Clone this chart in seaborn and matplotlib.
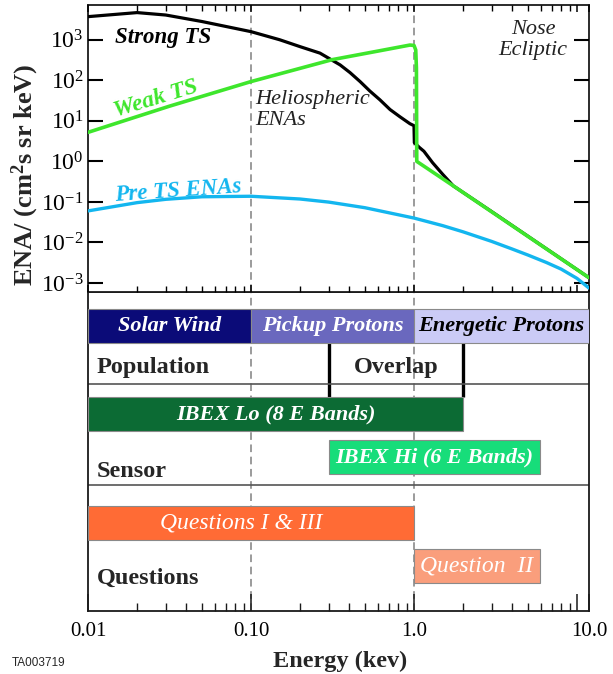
import matplotlib
matplotlib.use("Agg")
import matplotlib.pyplot as plt
import seaborn as sns
import pandas as pd
from matplotlib.ticker import FixedLocator, FixedFormatter, LogFormatterMathtext, NullLocator

sns.set_theme(style="white")
plt.rcParams["font.family"] = ["Liberation Serif", "DejaVu Serif"]
plt.rcParams["mathtext.fontset"] = "custom"
plt.rcParams["mathtext.rm"] = "Liberation Serif"
plt.rcParams["mathtext.it"] = "Liberation Serif:italic"
plt.rcParams["mathtext.bf"] = "Liberation Serif:bold"
plt.rcParams.update({
    "axes.axisbelow": False,
    "ytick.left": True, "ytick.right": True, "ytick.direction": "in",
    "ytick.major.size": 11, "ytick.major.width": 1.5, "ytick.color": "black",
    "xtick.bottom": True, "xtick.top": True, "xtick.direction": "in", "xtick.color": "black",
})

# ---------------- data ----------------
strong_E = [0.01, 0.02, 0.03, 0.05, 0.1, 0.15, 0.2, 0.265, 0.352, 0.405, 0.467, 0.537,
            0.618, 0.713, 0.82, 0.944, 1.0, 1.005, 1.08, 1.15, 1.3, 1.5, 1.74, 3.0, 11.85]
strong_flux = [3715, 4677, 4074, 2818, 1585, 1000, 676, 468, 240, 155, 93, 54,
               33, 19, 12.6, 8.5, 7.6, 2.9, 2.2, 1.78, 0.93, 0.48, 0.25, 0.0575, 0.00135]

weak_E = [0.01, 0.0316, 0.1, 0.316, 0.6, 0.944, 1.0, 1.025, 1.035, 1.04, 1.74, 11.85]
weak_flux = [5.2, 23, 93, 324, 525, 740, 725, 560, 200, 1.0, 0.25, 0.00135]

pre_E = [0.01, 0.02, 0.03, 0.05, 0.1, 0.2, 0.3, 0.5, 1.0, 1.5, 2.0, 3.0, 4.0, 5.0, 6.5,
         8.0, 10.0, 11.85]
pre_flux = [0.060, 0.096, 0.116, 0.134, 0.138, 0.118, 0.099, 0.072, 0.040, 0.026,
            0.0183, 0.0106, 0.0069, 0.0049, 0.0032, 0.0022, 0.0013, 0.00075]

pop_names = ["Solar Wind", "Pickup Protons", "Energetic Protons"]
pop_lo = [0.01, 0.1, 1.0]
pop_hi = [0.1, 1.0, 11.85]

sensor_names = ["IBEX Lo (8 E Bands)", "IBEX Hi (6 E Bands)"]
sensor_lo = [0.01, 0.3]
sensor_hi = [2.0, 5.9]

question_names = ["Questions I & III", "Question  II"]
question_lo = [0.01, 1.0]
question_hi = [1.0, 5.9]

overlap_E = [0.3, 2.0]
row_labels = ["Population", "Sensor", "Questions"]

xtick_vals = [0.01, 0.1, 1.0, 10.0, 11.85]
xtick_labels = ["0.01", "0.10", "1.0", "", "10.0"]
ytick_vals = [1e-3, 1e-2, 1e-1, 1e0, 1e1, 1e2, 1e3]

# ---------------- layout ----------------
W, H = 613, 674
XMIN, XMAX = 0.01, 11.85
fig = plt.figure(figsize=(W / 100, H / 100), dpi=100)


def fx(p):
    return p / W


def fy(p):
    return 1 - p / H


ax1 = fig.add_axes([fx(88), fy(292), (589 - 88) / W, (292 - 5) / H])
ax2 = fig.add_axes([fx(88), fy(611), (589 - 88) / W, (611 - 292) / H])
ax1.set_zorder(3)
ax1.set_axisbelow(False)

SPINE = "#1a1a1a"
DASH = "#808080"

# ---------------- top panel ----------------
ax1.set_xscale("log")
ax1.set_yscale("log")
ax1.set_xlim(XMIN, XMAX)
ax1.set_ylim(6.0e-4, 7200)

for xv in [0.1, 1.0]:
    ax1.axvline(xv, color=DASH, lw=1.1, ls=(0, (5, 3)), zorder=1)

curves = pd.DataFrame({
    "E": strong_E + weak_E + pre_E,
    "flux": strong_flux + weak_flux + pre_flux,
    "curve": ["Strong TS"] * len(strong_E) + ["Weak TS"] * len(weak_E) + ["Pre TS ENAs"] * len(pre_E),
})
styles = {"Strong TS": ("black", 2.3, 3), "Pre TS ENAs": ("#13B6EF", 2.4, 4), "Weak TS": ("#3EE62C", 2.6, 5)}
for name, (col, lw, z) in styles.items():
    sub = curves[curves["curve"] == name]
    sns.lineplot(data=sub, x="E", y="flux", ax=ax1, color=col, lw=lw, estimator=None,
                 sort=False, legend=False, zorder=z)

ax1.set_xlabel("")
ax1.set_ylabel("")
ax1.yaxis.set_ticks_position("both")
ax1.xaxis.set_ticks_position("both")
ax1.yaxis.set_major_locator(FixedLocator(ytick_vals))
ax1.yaxis.set_major_formatter(LogFormatterMathtext())
ax1.yaxis.set_minor_locator(NullLocator())
ax1.tick_params(axis="y", which="major", direction="in", left=True, right=True,
                labelleft=True, labelright=False, length=11, width=1.5, color="black",
                labelsize=17, pad=3)
minor_x = [k * 10.0 ** d for d in (-2, -1, 0) for k in range(2, 10)]
ax1.xaxis.set_major_locator(FixedLocator(xtick_vals))
ax1.xaxis.set_minor_locator(FixedLocator(minor_x))
ax1.tick_params(axis="x", which="major", direction="in", top=True, bottom=True, length=5,
                width=1.1, color="black", labelbottom=False, labeltop=False)
ax1.tick_params(axis="x", which="minor", direction="in", top=True, bottom=True, length=4,
                width=1.0, color="black")
for s in ax1.spines.values():
    s.set_color(SPINE)
    s.set_linewidth(1.3)

# curve labels
fig.text(fx(163), fy(37), "Strong TS", ha="center", va="center", fontsize=16.5,
         fontweight="bold", style="italic", color="black")
fig.text(fx(156), fy(99), "Weak TS", ha="center", va="center", fontsize=17,
         fontweight="bold", style="italic", color="#3EE62C", rotation=17)
fig.text(fx(178), fy(191), "Pre TS ENAs", ha="center", va="center", fontsize=16.5,
         fontweight="bold", style="italic", color="#13B6EF", rotation=4)
fig.text(fx(255), fy(110), "Heliospheric\nENAs", ha="left", va="center", fontsize=16,
         style="italic", color="#222222")
fig.text(fx(533), fy(40), "Nose\nEcliptic", ha="center", va="center", fontsize=16,
         style="italic", color="#222222", multialignment="center")
fig.text(fx(25), fy(175), "ENA/ (cm$^{\\mathbf{2}}$s sr keV)", rotation=90, ha="center",
         va="center", fontsize=19, fontweight="bold")

# ---------------- bottom panel ----------------
ax2.set_xscale("log")
ax2.set_xlim(XMIN, XMAX)
ax2.set_ylim(319, 0)

for xv in [0.1, 1.0]:
    ax2.axvline(xv, color=DASH, lw=1.1, ls=(0, (5, 3)), zorder=1)

EDGE = "#8a8a8a"
pop_colors = ["#0B0B78", "#6A68BE", "#CBCBF6"]
pop_text = ["white", "white", "black"]
for n, lo, hi, c, tc in zip(pop_names, pop_lo, pop_hi, pop_colors, pop_text):
    ax2.barh(34, hi - lo, left=lo, height=34, color=c, edgecolor=EDGE, lw=0.8, zorder=3)
    ax2.text((lo * hi) ** 0.5, 34, n, ha="center", va="center", fontsize=16,
             fontweight="bold", style="italic", color=tc, zorder=4)

sensor_rows = [122, 165]
sensor_colors = ["#0C6B34", "#17DD7A"]
for n, lo, hi, c, yc in zip(sensor_names, sensor_lo, sensor_hi, sensor_colors, sensor_rows):
    ax2.barh(yc, hi - lo, left=lo, height=34, color=c, edgecolor=EDGE, lw=0.8, zorder=3)
    ax2.text((lo * hi) ** 0.5, yc, n, ha="center", va="center", fontsize=16,
             fontweight="bold", style="italic", color="white", zorder=4)

question_rows = [230.5, 274]
question_colors = ["#FF6B35", "#FA9E7C"]
question_shift = [0.87, 1.0]
for n, lo, hi, c, yc, sh in zip(question_names, question_lo, question_hi, question_colors,
                                question_rows, question_shift):
    ax2.barh(yc, hi - lo, left=lo, height=34, color=c, edgecolor=EDGE, lw=0.8, zorder=3)
    ax2.text((lo * hi) ** 0.5 * sh, yc, n, ha="center", va="center", fontsize=17,
             style="italic", color="white", zorder=4)

for xv in overlap_E:
    ax2.plot([xv, xv], [51, 105], color="black", lw=2.4, zorder=2, solid_capstyle="butt")

for yv in [92, 193]:
    ax2.axhline(yv, color="#555555", lw=1.2, zorder=2)

ax2.text(0.01135, 75, row_labels[0], ha="left", va="center", fontsize=17.5, fontweight="bold")
ax2.text(0.776, 75, "Overlap", ha="center", va="center", fontsize=17.5, fontweight="bold")
ax2.text(0.01135, 179, row_labels[1], ha="left", va="center", fontsize=17.5, fontweight="bold")
ax2.text(0.01135, 286, row_labels[2], ha="left", va="center", fontsize=17.5, fontweight="bold")

ax2.yaxis.set_major_locator(NullLocator())
ax2.yaxis.set_minor_locator(NullLocator())
ax2.xaxis.set_major_locator(FixedLocator(xtick_vals))
ax2.xaxis.set_major_formatter(FixedFormatter(xtick_labels))
ax2.xaxis.set_minor_locator(FixedLocator(minor_x))
ax2.tick_params(axis="x", which="major", direction="in", bottom=True, top=False, length=12,
                width=1.1, color=SPINE, labelsize=15, pad=8)
ax2.tick_params(axis="x", which="minor", direction="in", bottom=True, top=False, length=6,
                width=1.0, color=SPINE)
ax2.set_xlabel("")
ax2.set_ylabel("")
for s in ax2.spines.values():
    s.set_color(SPINE)
    s.set_linewidth(1.3)

fig.text(fx(340), fy(661), "Energy (kev)", ha="center", va="center", fontsize=17.5,
         fontweight="bold")
fig.text(fx(12), fy(663), "TA003719", ha="left", va="center", fontsize=8.5,
         family=["Liberation Sans", "DejaVu Sans"])

fig.savefig("out.png", dpi=100)
